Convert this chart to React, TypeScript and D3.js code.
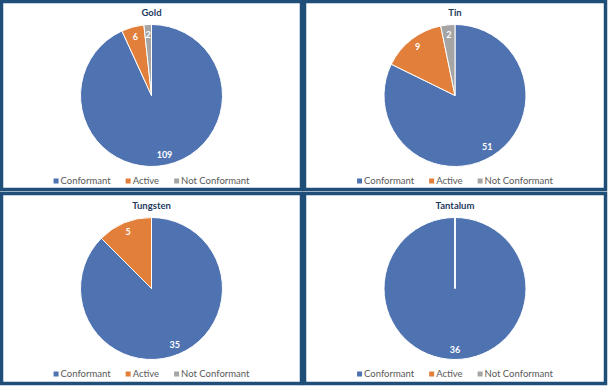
import { useEffect, useRef } from "react"
import * as d3 from "d3"

// data
const categories = ["Conformant", "Active", "Not Conformant"]
const metals = ["Gold", "Tin", "Tungsten", "Tantalum"]
const goldValues = [109, 6, 2]
const tinValues = [51, 9, 2]
const tungstenValues = [35, 5, 0]
const tantalumValues = [36, 0, 0]
const seriesValues = [goldValues, tinValues, tungstenValues, tantalumValues]

const colors = ["#4F72B1", "#E27F3B", "#A5A5A5"]
const borderColor = "#1F4E79"
const fontFamily = "Lato, 'Open Sans', sans-serif"

const W = 608
const H = 386

// panel boxes (outer edges) : left/right columns, top/bottom rows
const cols = [[0, 303], [303, 607]]
const rows = [[0, 191], [192, 385]]

export default function App() {
    const svgRef = useRef<SVGSVGElement | null>(null)

    useEffect(() => {
        const svg = d3.select(svgRef.current)
        svg.selectAll("*").remove()

        svg.append("rect")
            .attr("width", W).attr("height", H)
            .attr("fill", "#ffffff")

        const color = d3.scaleOrdinal<string, string>().domain(categories).range(colors)
        const pie = d3.pie<number>().sort(null).value(d => d)
        const radius = 71
        const arc = d3.arc<d3.PieArcDatum<number>>().innerRadius(0).outerRadius(radius)
        const labelArc = d3.arc<d3.PieArcDatum<number>>().innerRadius(61).outerRadius(61)

        metals.forEach((metal, i) => {
            const [x0, x1] = cols[i % 2]
            const [y0, y1] = rows[Math.floor(i / 2)]
            const cx = (x0 + x1) / 2
            const top = i < 2 ? y0 : y0 + 1

            // frame
            svg.append("rect")
                .attr("x", x0 + 1.5)
                .attr("y", y0 + 1.5)
                .attr("width", x1 - x0 - 3)
                .attr("height", y1 - y0 - 3)
                .attr("fill", "none")
                .attr("stroke", borderColor)
                .attr("stroke-width", 3.5)

            // title
            svg.append("text")
                .attr("x", cx)
                .attr("y", top + 15.5)
                .attr("text-anchor", "middle")
                .attr("font-family", fontFamily)
                .attr("font-weight", "bold")
                .attr("font-size", "9.5px")
                .attr("fill", "#1F3A5F")
                .text(metal)

            const g = svg.append("g")
                .attr("transform", `translate(${cx},${top + 95.5})`)

            const arcs = pie(seriesValues[i])

            g.selectAll("path")
                .data(arcs)
                .join("path")
                .attr("d", arc)
                .attr("fill", (_, j) => color(categories[j]))
                .attr("stroke", "#ffffff")
                .attr("stroke-width", 1)

            g.selectAll("text")
                .data(arcs.filter(a => a.value > 0))
                .join("text")
                .attr("transform", d => `translate(${labelArc.centroid(d)})`)
                .attr("text-anchor", "middle")
                .attr("dy", "0.35em")
                .attr("font-family", fontFamily)
                .attr("font-weight", "bold")
                .attr("font-size", "9px")
                .attr("fill", "#ffffff")
                .text(d => `${d.value}`)

            // legend
            const legend = svg.append("g")
            const items = categories.map(cat => {
                const item = legend.append("g")
                item.append("rect")
                    .attr("y", -5)
                    .attr("width", 5)
                    .attr("height", 5)
                    .attr("fill", color(cat))
                const t = item.append("text")
                    .attr("x", 7)
                    .attr("font-family", fontFamily)
                    .attr("font-size", "9.5px")
                    .attr("fill", "#595959")
                    .text(cat)
                const w = 7 + (t.node() as SVGTextElement).getComputedTextLength()
                return { item, w }
            })
            const gap = 15
            const total = d3.sum(items, d => d.w) + gap * (items.length - 1)
            let x = cx - total / 2
            items.forEach(({ item, w }) => {
                item.attr("transform", `translate(${x},${top + 183.5})`)
                x += w + gap
            })
        })
    }, [])

    return (
        <svg
            ref={svgRef}
            width={W}
            height={H}
            style={{ position: "absolute", left: 0, top: 0, display: "block" }}
        />
    )
}
